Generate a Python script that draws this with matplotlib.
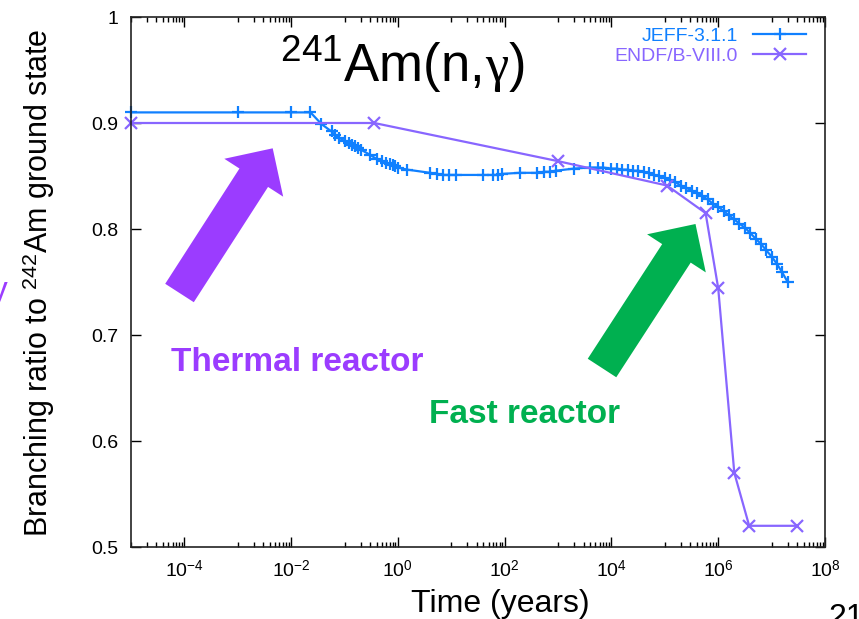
import numpy as np
import matplotlib
matplotlib.use("Agg")
from matplotlib import pyplot as plt
from matplotlib.patches import Polygon
from matplotlib.ticker import FixedLocator, NullFormatter

plt.rcParams['font.family'] = ['Liberation Sans', 'DejaVu Sans']
plt.rcParams['mathtext.fontset'] = 'custom'
plt.rcParams['mathtext.rm'] = 'Liberation Sans'
plt.rcParams['mathtext.sf'] = 'Liberation Sans'
plt.rcParams['mathtext.it'] = 'Liberation Serif'

# JEFF-3.1.1 branching ratio vs cooling time (years)
jeff_t = [1e-5, 1e-3, 1e-2, 2.3e-2, 3.7e-2, 5.7e-2, 6.5e-2, 8e-2, 0.1, 0.12,
          0.14, 0.16, 0.18, 0.2, 0.3, 0.4, 0.5, 0.6, 0.7, 0.8,
          0.9, 1.0, 1.5, 4.0, 5.5, 7.0, 9.0, 12.0, 40.0, 60.0,
          75.0, 90.0, 190.0, 400.0, 550.0, 700.0, 900.0, 2000.0, 4000.0, 5500.0,
          7000.0, 1.0e4, 1.26e4, 1.58e4, 2.0e4, 2.5e4, 3.2e4, 4.0e4, 5.0e4, 6.3e4,
          7.9e4, 1.0e5, 1.26e5, 1.58e5, 2.0e5, 2.5e5, 3.2e5, 4.0e5, 5.0e5, 6.3e5,
          7.9e5, 1.0e6, 1.26e6, 1.58e6, 2.0e6, 2.5e6, 3.2e6, 4.0e6, 5.0e6, 6.3e6,
          7.9e6, 1.0e7, 1.26e7, 1.58e7, 2.0e7]
jeff_br = [0.910, 0.910, 0.910, 0.910, 0.899, 0.892, 0.889, 0.886, 0.883, 0.881,
           0.879, 0.878, 0.876, 0.875, 0.870, 0.866, 0.864, 0.862, 0.861, 0.860,
           0.859, 0.858, 0.856, 0.853, 0.852, 0.851, 0.851, 0.851, 0.851, 0.851,
           0.851, 0.852, 0.853, 0.853, 0.854, 0.854, 0.855, 0.857, 0.858, 0.858,
           0.858, 0.857, 0.857, 0.856, 0.856, 0.855, 0.855, 0.854, 0.853, 0.851,
           0.850, 0.848, 0.846, 0.844, 0.841, 0.839, 0.836, 0.834, 0.831, 0.828,
           0.824, 0.821, 0.817, 0.813, 0.809, 0.805, 0.801, 0.796, 0.791, 0.786,
           0.780, 0.774, 0.767, 0.759, 0.750]

# ENDF/B-VIII.0
endf_t = [1e-5, 0.36, 1000.0, 1.1e5, 5.8e5, 1.0e6, 2.0e6, 3.8e6, 3.0e7]
endf_br = [0.900, 0.900, 0.864, 0.841, 0.815, 0.744, 0.570, 0.520, 0.520]

x_major = [1e-4, 1e-2, 1e0, 1e2, 1e4, 1e6, 1e8]
x_labels = ['$10^{-4}$', '$10^{-2}$', '$10^{0}$', '$10^{2}$',
            '$10^{4}$', '$10^{6}$', '$10^{8}$']
y_major = [0.5, 0.6, 0.7, 0.8, 0.9, 1.0]
y_labels = ['0.5', '0.6', '0.7', '0.8', '0.9', '1']

JEFF_C = '#1080ff'
ENDF_C = '#8866ff'
THERMAL_C = '#9b3cff'
FAST_C = '#00b050'

W, H = 859, 619
fig = plt.figure(figsize=(W / 100, H / 100), dpi=100)
ax = fig.add_axes([131 / W, 1 - 547 / H, (825 - 131) / W, (547 - 17) / H])


def px(x, y):
  # pixel position (origin top-left) -> figure fraction
  return (x / W, 1 - y / H)


ax.plot(jeff_t, jeff_br, color=JEFF_C, lw=1.6, marker='+', ms=8, mew=1.6,
        label='JEFF-3.1.1', clip_on=False)
ax.plot(endf_t, endf_br, color=ENDF_C, lw=1.6, marker='x', ms=8, mew=1.6,
        label='ENDF/B-VIII.0', clip_on=False)

ax.set_xscale('log')
ax.set_xlim(1e-5, 1e8)
ax.set_ylim(0.5, 1.0)

ax.xaxis.set_major_locator(FixedLocator(x_major))
ax.set_xticklabels(x_labels)
minor = [k * 10.0 ** e for e in range(-5, 8, 2) for k in range(1, 10)]
ax.xaxis.set_minor_locator(FixedLocator(minor))
ax.xaxis.set_minor_formatter(NullFormatter())
ax.set_yticks(y_major)
ax.set_yticklabels(y_labels)
ax.yaxis.set_minor_locator(FixedLocator([]))

ax.tick_params(which='both', direction='in', top=True, right=True,
               width=1.0, labelsize=14)
ax.tick_params(which='major', length=7)
ax.tick_params(which='minor', length=3.5)
ax.tick_params(axis='x', pad=9)
ax.tick_params(axis='y', pad=9)
for s in ax.spines.values():
  s.set_linewidth(1.2)
  s.set_color('#222222')

leg = ax.legend(loc='upper right', bbox_to_anchor=(0.9726, 0.981),
                frameon=False, markerfirst=False, labelcolor='linecolor',
                fontsize=14, handlelength=2.7, handletextpad=0.8,
                borderpad=0, borderaxespad=0, labelspacing=0.13, numpoints=1)

fig.text(*px(280, 82), r'$\mathrm{^{241}Am(n,}\!\gamma\mathrm{)}$',
         fontsize=38, ha='left', va='baseline')
fig.text(*px(39, 283), 'Branching ratio to $^{242}$Am ground state',
         fontsize=22, rotation=90, ha='center', va='center')
fig.text(*px(500, 612), 'Time (years)', fontsize=23, ha='center', va='baseline')


def arrow(tail, tip, shaft_w, head_w, head_len, color):
  t = np.array(tail, float)
  p = np.array(tip, float)
  d = (p - t) / np.hypot(*(p - t))
  n = np.array([-d[1], d[0]])
  b = p - d * head_len
  pts = [t + n * shaft_w / 2, b + n * shaft_w / 2, b + n * head_w / 2, p,
         b - n * head_w / 2, b - n * shaft_w / 2, t - n * shaft_w / 2]
  poly = Polygon([px(*q) for q in pts], closed=True, facecolor=color,
                 edgecolor='none', transform=fig.transFigure)
  fig.patches.append(poly)


arrow((179.5, 293), (272.7, 148.3), 34, 70, 35, THERMAL_C)
arrow((602, 368), (695.5, 224), 34, 70, 35, FAST_C)

fig.text(*px(171, 371), 'Thermal reactor', fontsize=24, fontweight='bold',
         color=THERMAL_C, ha='left', va='baseline')
fig.text(*px(429, 423), 'Fast reactor', fontsize=24, fontweight='bold',
         color=FAST_C, ha='left', va='baseline')

# slide leftovers at the edges
fig.text(*px(828, 626), '21', fontsize=23, ha='left', va='baseline')
fig.text(*px(8, 300), 'y', fontsize=24, color=THERMAL_C, ha='right',
         va='baseline')

fig.savefig('out.png', dpi=100)
